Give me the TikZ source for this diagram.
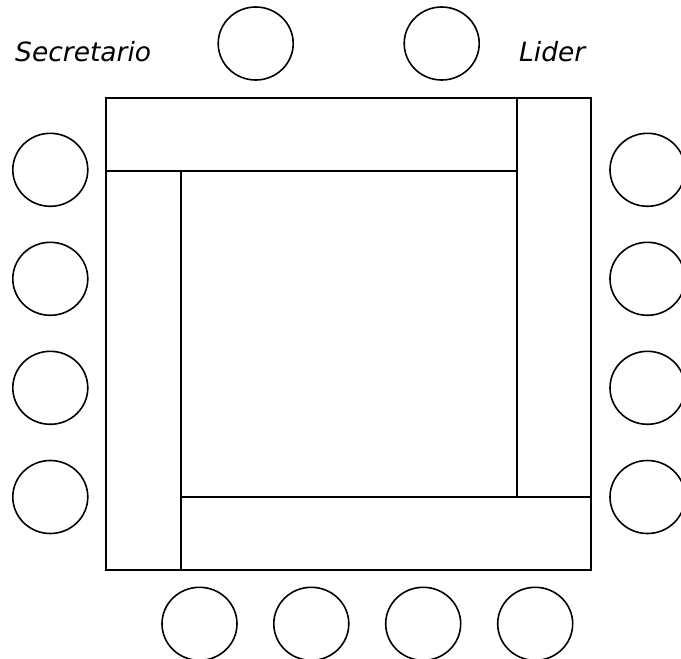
\documentclass[tikz,border=0pt]{standalone}
\usepackage{fontspec}
\setmainfont{DejaVu Sans}
\usetikzlibrary{shapes.geometric}

\begin{document}
\begin{tikzpicture}[
    x=1pt, y=-1pt,
    chair/.style={
        draw,
        ellipse,
        minimum width=75pt,
        minimum height=73pt,
        inner sep=0pt,
        line width=1.6pt
    },
    tablebar/.style={draw, line width=1.6pt},
    label/.style={
        font=\fontsize{26.5}{30}\selectfont\itshape,
        inner sep=0pt,
        anchor=base west
    }
]
\useasboundingbox (0,0) rectangle (681,659);

% table
\draw[tablebar] (106,98) rectangle (517,171);
\draw[tablebar] (517,98) rectangle (591,497);
\draw[tablebar] (181,497) rectangle (591,570);
\draw[tablebar] (106,171) rectangle (181,570);

% chairs
\node[chair] (top1) at (255.7,43.5) {};
\node[chair] (top2) at (441.7,43.5) {};
\foreach \y [count=\i] in {169.8,278.8,387.8,497} {
    \node[chair] (left\i) at (50.3,\y) {};
    \node[chair] (right\i) at (647.5,\y) {};
}
\foreach \x [count=\i] in {199.5,311.3,423.2,535.2} {
    \node[chair] (bottom\i) at (\x,623.8) {};
}

% labels
\node[label] (secretario) at (15,61.7) {Secretario};
\node[label] (lider) at (519,61.7) {Lider};
\end{tikzpicture}
\end{document}
